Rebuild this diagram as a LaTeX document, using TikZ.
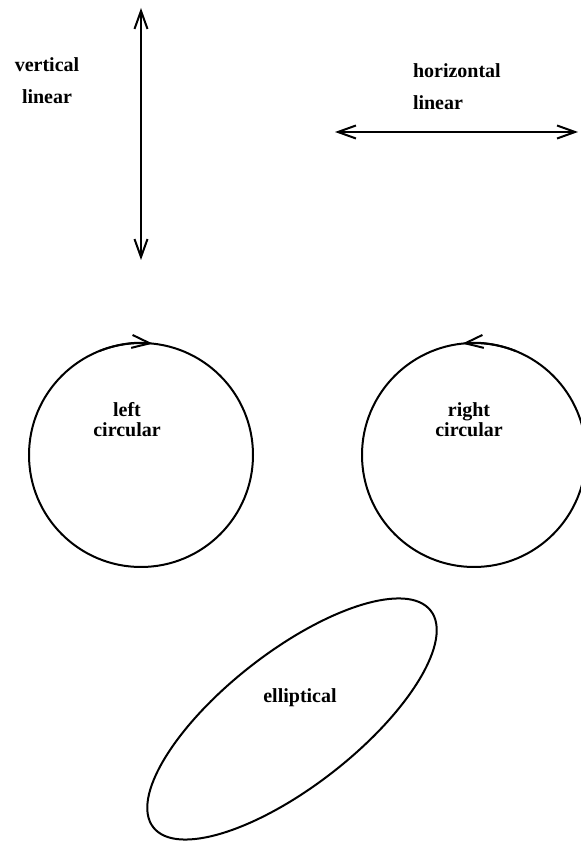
\documentclass[tikz,border=0pt]{standalone}
\usepackage{fontspec}
\setmainfont{Liberation Serif}
\usetikzlibrary{arrows.meta,positioning,shapes.geometric}

\begin{document}
\begin{tikzpicture}[
  x=0.5pt, y=0.5pt, line width=1pt,
  lbl/.style={font=\bfseries\fontsize{10}{16}\selectfont, align=center, inner sep=0pt},
  tight/.style={font=\bfseries\fontsize{10}{10}\selectfont},
  circ/.style={draw, circle, minimum size=112pt, inner sep=0pt, outer sep=0pt},
  barb/.style={{Straight Barb[length=9pt,width=6.5pt]}-{Straight Barb[length=9pt,width=6.5pt]}}
]
  \useasboundingbox (0,0) rectangle (580,841);

  % linear polarisation
  \coordinate (vtop) at (141,833);
  \coordinate (vbot) at (141,581);
  \coordinate (hleft) at (335,709);
  \coordinate (hright) at (578,709);
  \draw[barb] (vbot) -- (vtop);
  \draw[barb] (hleft) -- (hright);
  \node[lbl] (vlin) at (47,760) {vertical\\linear};
  \node[lbl, anchor=west, align=left] (hlin) at (412,754) {horizontal\\linear};

  % circular polarisation
  \node[circ] (lc) at (141,386) {};
  \node[circ] (rc) at (474,386) {};
  \draw[-{Straight Barb[length=9pt,width=6.5pt]}] (lc.112) arc[start angle=112, end angle=84, radius=112];
  \draw[-{Straight Barb[length=9pt,width=6.5pt]}] (rc.68) arc[start angle=68, end angle=96, radius=112];
  \node[lbl, tight] (lctxt) at (127,421) {left\\circular};
  \node[lbl, tight] (rctxt) at (469,421) {right\\circular};

  % elliptical polarisation
  \node[draw, ellipse, minimum width=176pt, minimum height=67pt, inner sep=0pt, rotate=38] (ell) at (292,122) {};
  \node[lbl] (elltxt) at (300,143) {elliptical};
\end{tikzpicture}
\end{document}
